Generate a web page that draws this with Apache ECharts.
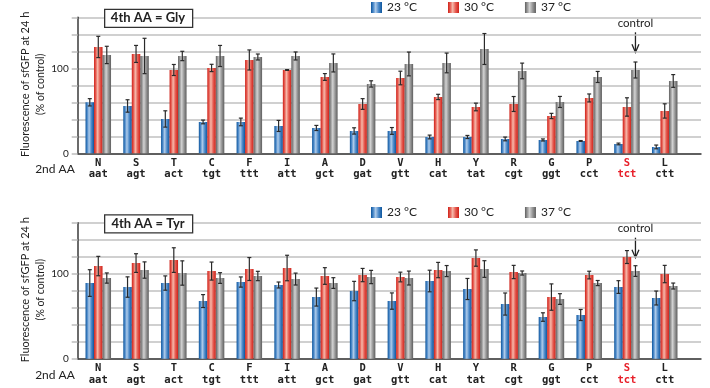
<!DOCTYPE html>
<html>
<head>
<meta charset="utf-8">
<script src="https://cdn.jsdelivr.net/npm/echarts@6/dist/echarts.min.js"></script>
<style>
  html, body { margin: 0; padding: 0; background: #fff; }
  #chart { width: 710px; height: 388px; }
</style>
</head>
<body>
<div id="chart"></div>
<script>
// 2nd amino acid and its codon, one per bar group
const aminoAcids = ['N', 'S', 'T', 'C', 'F', 'I', 'A', 'D', 'V', 'H', 'Y', 'R', 'G', 'P', 'S', 'L'];
const codons = ['aat', 'agt', 'act', 'tgt', 'ttt', 'att', 'gct', 'gat', 'gtt', 'cat', 'tat', 'cgt', 'ggt', 'cct', 'tct', 'ctt'];
const controlIndex = 14;
const tempNames = ['23 °C', '30 °C', '37 °C'];
const yTickLabels = { 0: '0', 100: '100' };

// 4th AA = Gly
const gly23 = [60, 55.7, 40.4, 36.9, 36.9, 32.2, 29.8, 26.3, 26.3, 19.2, 19.2, 16.9, 15.7, 14.5, 11, 7.5];
const gly23Err = [4.3, 7.3, 9.6, 2.2, 4.5, 6.5, 3, 3.7, 4, 2.2, 1.8, 2.2, 1.2, 0.5, 1, 2.2];
const gly30 = [125.1, 116.9, 98, 100.4, 109.8, 98, 89.8, 58, 88.6, 66.3, 54.5, 58, 43.9, 65.1, 54.5, 49.8];
const gly30Err = [12.5, 10, 6.5, 4.3, 11.8, 0.5, 4, 6.3, 8, 3.1, 4.5, 8.8, 3.1, 4.7, 10.8, 8.4];
const gly37 = [115.7, 114.5, 114.5, 114.5, 113.3, 114.5, 106.3, 81.6, 105.1, 106.3, 122.7, 96.9, 60.4, 89.8, 98, 85.1];
const gly37Err = [10.2, 20.8, 5.5, 12.4, 3.5, 4.7, 10.6, 3.7, 14, 11.6, 18.2, 9.2, 6.5, 6.5, 9.4, 7.5];

// 4th AA = Tyr
const tyr23 = [89, 84.3, 89, 67.8, 90.2, 86.7, 72.5, 79.6, 67.8, 91.4, 82, 64.3, 49, 51.4, 84.3, 71.4];
const tyr23Err = [15.7, 12, 8.4, 7.6, 6, 3.5, 10.6, 11.4, 9.6, 12.7, 12.4, 13, 5, 6.5, 7.5, 8.2];
const tyr30 = [109, 112.5, 116, 103.1, 105.5, 106.7, 97.3, 98.4, 96.1, 104.3, 118.4, 102, 72.5, 98.4, 119.6, 99.6];
const tyr30Err = [11.4, 11, 14.5, 10.6, 13.5, 15, 9.8, 7.8, 5.7, 9, 9.6, 7.8, 15.5, 4.5, 7.6, 10.2];
const tyr37 = [94.9, 104.3, 100.8, 94.9, 97.3, 93.7, 89, 96.1, 94.9, 103.1, 105.5, 100.8, 70.2, 89, 103.1, 85.5];
const tyr37Err = [6, 9.6, 14.3, 6.3, 5.5, 7, 6.3, 7.8, 8.2, 6.5, 9.8, 2.4, 6.3, 3, 6.3, 3.5];

const BAR_W = 8.5;
const FONT = 'Lato, "Open Sans", sans-serif';
const MONO = '"DejaVu Sans Mono", monospace';

const grad = (edge, light, mid) => new echarts.graphic.LinearGradient(0, 0, 1, 0, [
  { offset: 0, color: edge },
  { offset: 0.2, color: mid },
  { offset: 0.42, color: light },
  { offset: 0.7, color: mid },
  { offset: 1, color: edge },
]);
const barColors = [
  grad('#0d559c', '#aecbea', '#4a88c8'),
  grad('#cf2118', '#f6b9aa', '#e55a50'),
  grad('#5e5e5e', '#d2d2d2', '#969696'),
];

const panels = [
  { top: 17.3, title: '4th AA = Gly', vals: [gly23, gly30, gly37], errs: [gly23Err, gly30Err, gly37Err] },
  { top: 222.7, title: '4th AA = Tyr', vals: [tyr23, tyr30, tyr37], errs: [tyr23Err, tyr30Err, tyr37Err] },
];
const PLOT_H = 136;

const grid = [];
const xAxis = [];
const yAxis = [];
const series = [];
const legend = [];
let graphic = [];

function renderErr(params, api) {
  const i = api.value(0);
  const k = api.value(1);
  const v = api.value(2);
  const e = api.value(3);
  const hi = api.coord([i, v + e]);
  const lo = api.coord([i, v - e]);
  const x = hi[0] + (k - 1) * BAR_W;
  const style = { stroke: '#2a2a2a', lineWidth: 1.2 };
  return {
    type: 'group',
    children: [
      { type: 'line', shape: { x1: x, y1: hi[1], x2: x, y2: lo[1] }, style },
      { type: 'line', shape: { x1: x - 2, y1: hi[1], x2: x + 2, y2: hi[1] }, style },
      { type: 'line', shape: { x1: x - 2, y1: lo[1], x2: x + 2, y2: lo[1] }, style },
    ],
  };
}

panels.forEach((p, pi) => {
  const g0 = pi * 2;
  const g1 = pi * 2 + 1;
  // grid for gridlines + axes
  grid.push({ left: 77.7, top: p.top, width: 623.3, height: PLOT_H });
  // grid for bars
  grid.push({ left: 79.4, top: p.top, width: 604.2, height: PLOT_H });

  xAxis.push({
    gridIndex: g0, type: 'value', min: 0, max: 1,
    axisLine: { show: true, onZero: false, lineStyle: { color: '#3a3a3a', width: 1.5 } },
    axisTick: { show: false }, axisLabel: { show: false }, splitLine: { show: false },
  });
  xAxis.push({
    gridIndex: g1, type: 'category', data: codons,
    axisLine: { show: false }, axisTick: { show: false },
    axisLabel: {
      margin: 4,
      interval: 0,
      formatter: (v, i) => i === controlIndex
        ? `{ar|${aminoAcids[i]}}\n{br|${codons[i]}}`
        : `{a|${aminoAcids[i]}}\n{b|${codons[i]}}`,
      rich: {
        a: { fontFamily: MONO, fontSize: 10.5, fontWeight: 'bold', color: '#222', lineHeight: 11.5 },
        b: { fontFamily: MONO, fontSize: 10.5, fontWeight: 'bold', color: '#222', lineHeight: 11.5 },
        ar: { fontFamily: MONO, fontSize: 10.5, fontWeight: 'bold', color: '#e8202a', lineHeight: 11.5 },
        br: { fontFamily: MONO, fontSize: 10.5, fontWeight: 'bold', color: '#e8202a', lineHeight: 11.5 },
      },
    },
  });

  yAxis.push({
    gridIndex: g0, type: 'value', min: 0, max: 160, interval: 20,
    axisLine: { show: true, lineStyle: { color: '#3a3a3a', width: 1.5 } },
    axisTick: { show: true, length: 6, lineStyle: { color: '#bdbdbd', width: 1.5 } },
    axisLabel: {
      margin: 9, fontFamily: FONT, fontSize: 10, color: '#222',
      formatter: (v) => yTickLabels[v] || '',
    },
    splitLine: { show: true, lineStyle: { color: '#c0c0c0', width: 1.7 } },
  });
  yAxis.push({
    gridIndex: g1, type: 'value', min: 0, max: 160, interval: 20,
    axisLine: { show: false }, axisTick: { show: false },
    axisLabel: { show: false }, splitLine: { show: false },
  });

  tempNames.forEach((name, k) => {
    series.push({
      name, type: 'bar', xAxisIndex: g1, yAxisIndex: g1,
      barWidth: BAR_W, barGap: '0%',
      itemStyle: { color: barColors[k] },
      data: p.vals[k],
      z: 2,
    });
  });

  const errData = [];
  p.vals.forEach((arr, k) => {
    arr.forEach((v, i) => errData.push([i, k, v, p.errs[k][i]]));
  });
  series.push({
    type: 'custom', xAxisIndex: g1, yAxisIndex: g1,
    renderItem: renderErr, data: errData, z: 5, silent: true,
  });

  legend.push({
    data: tempNames, left: 371, top: pi === 0 ? 1.5 : 206.5, padding: 0,
    itemWidth: 11, itemHeight: 11, itemGap: 31, icon: 'rect',
    textStyle: { fontFamily: FONT, fontSize: 12, color: '#222' },
    selectedMode: false,
  });

  // title box
  graphic.push({
    type: 'rect', left: 104, top: p.top - 8.5, z: 20,
    shape: { x: 0, y: 0, width: 88, height: 18 },
    style: { fill: '#fff', stroke: '#333', lineWidth: 1.3 },
  });
  graphic.push({
    type: 'text', x: 148, y: p.top + 1, z: 21,
    style: { text: p.title, fontFamily: FONT, fontSize: 13, fontWeight: 'bold', fill: '#222',
      textAlign: 'center', textVerticalAlign: 'middle' },
  });
  // y axis title
  const midY = p.top + PLOT_H / 2 - 1;
  graphic.push({
    type: 'text', x: 25, y: midY, rotation: Math.PI / 2, z: 20,
    style: { text: 'Fluorescence of sfGFP at 24 h', fontFamily: FONT, fontSize: 11, fill: '#222',
      textAlign: 'center', textVerticalAlign: 'middle' },
  });
  graphic.push({
    type: 'text', x: 41, y: midY, rotation: Math.PI / 2, z: 20,
    style: { text: '(% of control)', fontFamily: FONT, fontSize: 10.5, fill: '#222',
      textAlign: 'center', textVerticalAlign: 'middle' },
  });
  graphic.push({
    type: 'text', x: 55, y: p.top + PLOT_H + 16, z: 20,
    style: { text: '2nd AA', fontFamily: FONT, fontSize: 12, fill: '#222',
      textAlign: 'center', textVerticalAlign: 'middle' },
  });
});

const chart = echarts.init(document.getElementById('chart'), null, { renderer: 'canvas' });
chart.setOption({
  animation: false,
  backgroundColor: '#fff',
  grid, xAxis, yAxis, series, legend, graphic,
});

// control arrow above the 37 °C bar of the control (S / tct)
const extra = [];
panels.forEach((p, pi) => {
  const cx = chart.convertToPixel({ xAxisIndex: pi * 2 + 1 }, controlIndex) + BAR_W;
  const tipY = p.top + 35;
  const baseY = p.top + 15;
  extra.push({
    type: 'group', z: 20,
    children: [
      { type: 'text', x: cx, y: p.top + 6,
        style: { text: 'control', fontFamily: FONT, fontSize: 11.5, fill: '#222',
          textAlign: 'center', textVerticalAlign: 'middle' } },
      { type: 'line', shape: { x1: cx, y1: baseY, x2: cx, y2: tipY },
        style: { stroke: '#222', lineWidth: 1.3 } },
      { type: 'polyline', shape: { points: [[cx - 3.5, tipY - 8], [cx, tipY], [cx + 3.5, tipY - 8]] },
        style: { stroke: '#222', lineWidth: 1.3, fill: null } },
    ],
  });
});
chart.setOption({ graphic: graphic.concat(extra) });
</script>
</body>
</html>
